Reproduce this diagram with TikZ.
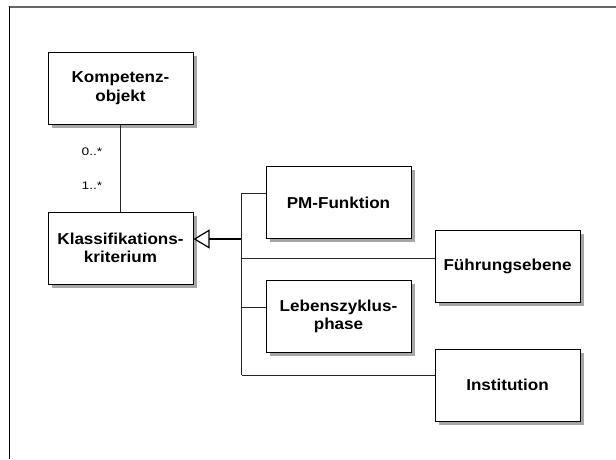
\documentclass[tikz,border=0pt]{standalone}
\usepackage{fontspec}
\setmainfont{Liberation Sans}[FakeStretch=1.08]
\usetikzlibrary{shadows,arrows.meta}
\begin{document}
\begin{tikzpicture}[x=1pt,y=-1pt,
  classbox/.style={draw=black, line width=1pt, fill=white,
    minimum width=145pt, minimum height=72pt, inner sep=2pt,
    align=center, font=\fontsize{15.8}{18.5}\selectfont\bfseries,
    drop shadow={shadow xshift=3.5pt, shadow yshift=-3.5pt, fill=black!35, opacity=1}},
  mult/.style={font=\fontsize{11}{13}\selectfont\addfontfeature{FakeStretch=1.25}, inner sep=0pt},
  link/.style={line width=0.8pt, draw=black!85}]
\useasboundingbox (0,0) rectangle (616,459);
\fill[white] (0,0) rectangle (616,459);
% page frame
\draw[black!60, line width=2pt] (8.5,6.5) -- (616,6.5);
\draw[black, line width=1pt] (9,6) -- (9,459);

% classes
\node[classbox] (komp) at (120.5,88) {Kompetenz-\\objekt};
\node[classbox] (klass) at (120.5,248) {Klassifikations-\\kriterium};
\node[classbox] (pm) at (338.5,202.5) {PM-Funktion};
\node[classbox] (fuehr) at (507.5,266.5) {Führungsebene};
\node[classbox] (leben) at (338.5,316.5) {Lebenszyklus-\\phase};
\node[classbox] (inst) at (507.5,385) {Institution};

% association with multiplicities
\draw[link] (komp) -- (klass);
\node[mult] (m0) at (92,152) {0..*};
\node[mult] (m1) at (92,186) {1..*};

% generalization tree
\coordinate (hub) at (241.5,239);
\coordinate (bt) at (241.5,193);
\coordinate (bf) at (241.5,258);
\coordinate (bl) at (241.5,307);
\coordinate (bi) at (241.5,375);
\draw[line width=1.8pt, -{Triangle[open, length=16pt, width=19pt, line width=1.2pt]}] (hub) -- (hub -| klass.east);
\draw[link] (bt) -- (bi);
\draw[link] (bt) -- (bt -| pm.west);
\draw[link] (bf) -- (bf -| fuehr.west);
\draw[link] (bl) -- (bl -| leben.west);
\draw[link] (bi) -- (bi -| inst.west);
\end{tikzpicture}
\end{document}
